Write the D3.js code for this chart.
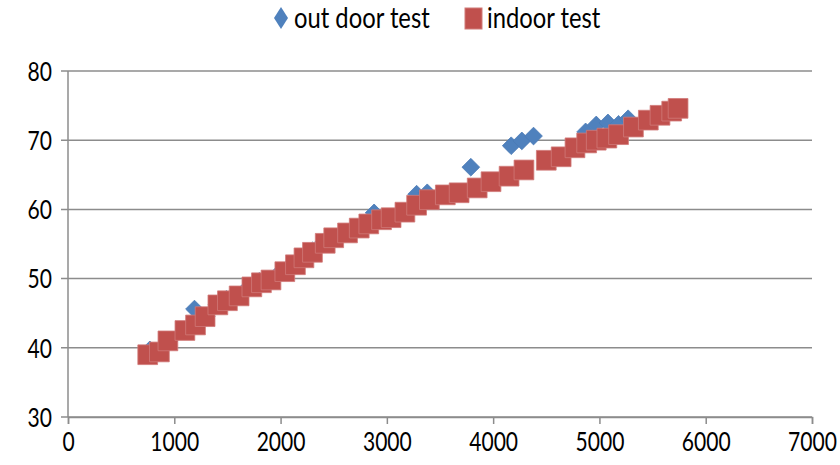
<!DOCTYPE html>
<meta charset="utf-8">
<script src="https://d3js.org/d3.v7.min.js"></script>
<style>
  body { margin: 0; background: #fff; }
  text { font-family: Lato, "Open Sans", sans-serif; }
</style>
<div id="my_dataviz"></div>
<script>

// out door test (x, y)
var outdoorX = [770, 850, 950, 1100, 1190, 1300, 1400, 1490, 1590, 1700, 1800, 1900, 2000, 2100, 2200, 2300, 2400, 2500, 2620, 2730, 2830, 2880, 3040, 3170, 3280, 3380, 3550, 3680, 3790, 3980, 4150, 4170, 4270, 4380, 4870, 4970, 5080, 5180, 5270];
var outdoorY = [39.7, 39.4, 41.0, 42.5, 45.6, 44.5, 46.2, 47.0, 47.6, 48.8, 49.6, 49.8, 51.0, 52.0, 53.0, 54.0, 55.2, 55.9, 56.6, 57.3, 57.9, 59.5, 58.8, 59.6, 62.2, 62.4, 62.1, 62.4, 66.1, 64.0, 64.8, 69.2, 69.9, 70.6, 71.2, 72.2, 72.5, 72.3, 73.1];

// indoor test (x, y)
var indoorX = [750, 860, 940, 1100, 1200, 1290, 1410, 1500, 1610, 1730, 1820, 1910, 2040, 2140, 2220, 2300, 2420, 2500, 2630, 2740, 2830, 2950, 3040, 3170, 3280, 3400, 3550, 3680, 3850, 3980, 4150, 4290, 4500, 4640, 4770, 4880, 4970, 5070, 5180, 5320, 5460, 5570, 5680, 5740];
var indoorY = [39.0, 39.4, 41.0, 42.5, 43.3, 44.5, 46.2, 46.8, 47.5, 48.8, 49.4, 49.8, 51.0, 52.0, 53.0, 53.8, 55.1, 55.9, 56.6, 57.3, 57.9, 58.5, 58.8, 59.6, 60.6, 61.4, 62.1, 62.4, 63.1, 64.0, 64.8, 65.7, 67.1, 67.6, 68.9, 69.6, 70.0, 70.3, 70.8, 71.9, 72.9, 73.6, 74.2, 74.6];

var xTicks = [0, 1000, 2000, 3000, 4000, 5000, 6000, 7000];
var yTicks = [30, 40, 50, 60, 70, 80];

var width = 840, height = 465;
var margin = {top: 71, right: 28, bottom: 48, left: 68};

var svg = d3.select("#my_dataviz")
  .append("svg")
    .attr("width", width)
    .attr("height", height);

var x = d3.scaleLinear().domain([0, 7000]).range([margin.left, width - margin.right]);
var y = d3.scaleLinear().domain([30, 80]).range([height - margin.bottom, margin.top]);

// gridlines
svg.append("g")
  .selectAll("line")
  .data(yTicks)
  .enter()
  .append("line")
    .attr("x1", x(0) - 7)
    .attr("x2", x(7000))
    .attr("y1", function(d){ return y(d) })
    .attr("y2", function(d){ return y(d) })
    .attr("stroke", "#8c8c8c")
    .attr("stroke-width", 1.5);

// y axis line
svg.append("line")
  .attr("x1", x(0)).attr("x2", x(0))
  .attr("y1", y(80)).attr("y2", y(30))
  .attr("stroke", "#8c8c8c")
  .attr("stroke-width", 1.5);

// x axis
var xAxis = svg.append("g")
  .attr("transform", "translate(0," + y(30) + ")")
  .call(d3.axisBottom(x).tickValues(xTicks).tickSize(7).tickPadding(8).tickFormat(d3.format("d")));
xAxis.select(".domain").attr("stroke", "#8c8c8c").attr("stroke-width", 1.5);
xAxis.selectAll(".tick line").attr("stroke", "#8c8c8c").attr("stroke-width", 1.5);
xAxis.selectAll("text")
  .style("font-size", "27px")
  .style("font-family", "Lato, 'Open Sans', sans-serif")
  .attr("fill", "#000")
  .attr("transform", "scale(0.78,1)");

// y labels
svg.append("g")
  .selectAll("text")
  .data(yTicks)
  .enter()
  .append("text")
    .attr("transform", function(d){ return "translate(" + (x(0) - 16) + "," + y(d) + ") scale(0.78,1)" })
    .attr("dy", "0.36em")
    .attr("text-anchor", "end")
    .style("font-size", "27px")
    .text(function(d){ return d });

var outdoor = outdoorX.map(function(v, i){ return {x: v, y: outdoorY[i]} });
var indoor = indoorX.map(function(v, i){ return {x: v, y: indoorY[i]} });

var diamond = d3.symbol().type(d3.symbolDiamond2).size(200);
var square = d3.symbol().type(d3.symbolSquare).size(390);

svg.append("g")
  .selectAll("path")
  .data(outdoor)
  .enter()
  .append("path")
    .attr("d", diamond)
    .attr("transform", function(d){ return "translate(" + x(d.x) + "," + y(d.y) + ")" })
    .attr("fill", "#4f81bd")
    .attr("stroke", "#4a7ab5")
    .attr("stroke-width", 0.8);

svg.append("g")
  .selectAll("path")
  .data(indoor)
  .enter()
  .append("path")
    .attr("d", square)
    .attr("transform", function(d){ return "translate(" + x(d.x) + "," + y(d.y) + ")" })
    .attr("fill", "#c0504d")
    .attr("stroke", "#d07a78")
    .attr("stroke-width", 0.8);

// legend
var legend = svg.append("g");
legend.append("path")
  .attr("d", "M281,7 L288,18 L281,29 L274,18 Z")
  .attr("fill", "#4f81bd");
legend.append("text")
  .attr("transform", "translate(294,18) scale(0.85,1)")
  .attr("dy", "0.36em")
  .style("font-size", "28px")
  .text("out door test");
legend.append("rect")
  .attr("x", 465).attr("y", 8)
  .attr("width", 17).attr("height", 21)
  .attr("fill", "#c0504d")
  .attr("stroke", "#d07a78");
legend.append("text")
  .attr("transform", "translate(487,18) scale(0.85,1)")
  .attr("dy", "0.36em")
  .style("font-size", "28px")
  .text("indoor test");

</script>
